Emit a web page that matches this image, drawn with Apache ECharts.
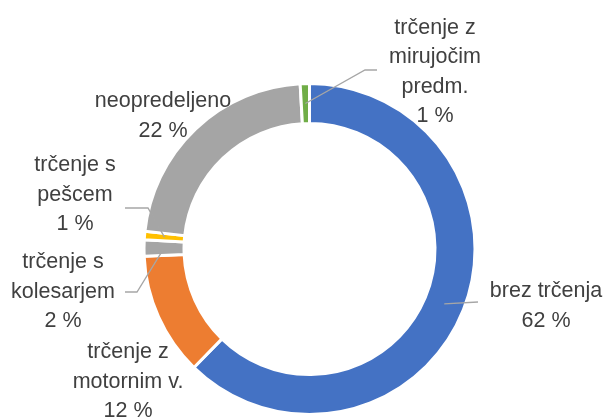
<!DOCTYPE html>
<html>
<head>
<meta charset="utf-8">
<script src="https://cdn.jsdelivr.net/npm/echarts@6/dist/echarts.min.js"></script>
<style>
  html, body { margin: 0; padding: 0; background: #fff; }
  #chart { width: 605px; height: 419px; }
</style>
</head>
<body>
<div id="chart"></div>
<script>
// kategorije (z ročnimi prelomi vrstic kot na sliki)
let categories = [
  "brez trčenja",
  "trčenje z\nmotornim v.",
  "trčenje s\nkolesarjem",
  "trčenje s\npešcem",
  "neopredeljeno",
  "trčenje z\nmirujočim\npredm.",
];
// deleži v % (odčitano s slike)
let values = [62.3, 12.0, 1.6, 0.8, 22.4, 0.9];
let colors = ["#4472C4", "#ED7D31", "#A5A5A5", "#FFC000", "#A5A5A5", "#70AD47"];

// postavitev oznak: središče besedila in lomne točke črte
let labelPos = [
  { x: 546, y: 306, line: [[478, 302]] },
  { x: 128, y: 382, line: null },
  { x: 63, y: 292, line: [[137, 292], [125, 292]] },
  { x: 75, y: 195, line: [[148, 208], [125, 208]] },
  { x: 163, y: 116, line: null },
  { x: 435, y: 72, line: [[365, 70], [377, 70]] },
];

const cx = 309.5;
const cy = 249;
const rIn = 125.5;
const rOut = 165.5;
const rMid = 145.5;

let chartDom = document.getElementById("chart");
let myChart = echarts.init(chartDom);

let ringData = categories.map(function (name, i) {
  return { name: name, value: values[i], itemStyle: { color: colors[i] } };
});
let labelData = categories.map(function (name, i) {
  return {
    name: name,
    value: values[i],
    itemStyle: { color: "rgba(0,0,0,0)" },
    labelLine: { show: !!labelPos[i].line },
  };
});

let option = {
  backgroundColor: "#ffffff",
  animation: false,
  series: [
    // kolobar
    {
      type: "pie",
      center: [cx, cy],
      radius: [rIn, rOut],
      startAngle: 90,
      clockwise: true,
      silent: true,
      z: 2,
      itemStyle: {
        borderColor: "#ffffff",
        borderWidth: 3,
      },
      label: { show: false },
      labelLine: { show: false },
      data: ringData,
    },
    // oznake in črte nad kolobarjem
    {
      type: "pie",
      center: [cx, cy],
      radius: [rIn, rOut],
      startAngle: 90,
      clockwise: true,
      silent: true,
      z: 5,
      avoidLabelOverlap: false,
      itemStyle: { borderWidth: 0 },
      label: {
        show: true,
        position: "outside",
        fontFamily: "Liberation Sans",
        fontSize: 21.5,
        lineHeight: 29.5,
        color: "#404040",
        align: "center",
        formatter: function (p) {
          return p.name + "\n" + Math.round(p.percent) + " %";
        },
      },
      labelLine: {
        show: true,
        lineStyle: { color: "#A6A6A6", width: 1.3 },
      },
      labelLayout: function (params) {
        let pos = labelPos[params.dataIndex];
        let res = { x: pos.x, y: pos.y, align: "center", verticalAlign: "middle" };
        if (pos.line && params.labelLinePoints) {
          // začetek črte na sredini obroča
          let p0 = params.labelLinePoints[0];
          let dx = p0[0] - cx;
          let dy = p0[1] - cy;
          let d = Math.sqrt(dx * dx + dy * dy);
          let anchor = [cx + (dx / d) * rMid, cy + (dy / d) * rMid];
          res.labelLinePoints = [anchor].concat(pos.line);
        }
        return res;
      },
      data: labelData,
    },
  ],
};
myChart.setOption(option);
</script>
</body>
</html>
